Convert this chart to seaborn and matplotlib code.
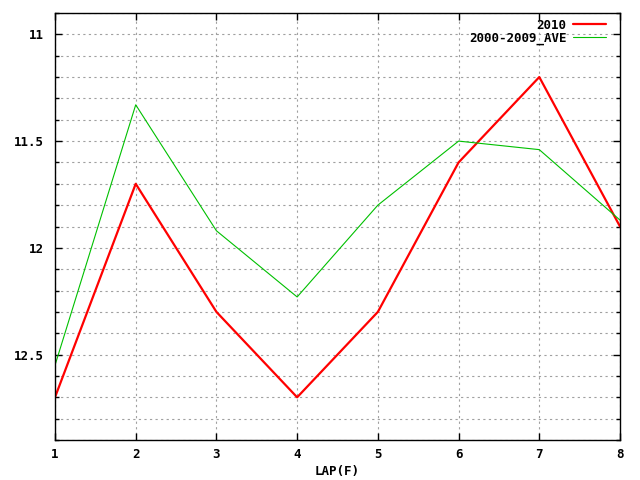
import numpy as np
import matplotlib
matplotlib.use('Agg')
import matplotlib.pyplot as plt
from matplotlib.ticker import MultipleLocator
import seaborn as sns
import pandas as pd

laps = [1, 2, 3, 4, 5, 6, 7, 8]
times2010 = [12.70, 11.70, 12.30, 12.70, 12.30, 11.60, 11.20, 11.90]
timesAve = [12.55, 11.33, 11.92, 12.23, 11.80, 11.50, 11.54, 11.87]

sns.set_style('white')
plt.rcParams['font.family'] = ['DejaVu Sans Mono', 'DejaVu Sans']
plt.rcParams['font.weight'] = 'bold'
plt.rcParams['font.size'] = 9
plt.rcParams['text.color'] = 'black'
plt.rcParams['axes.labelcolor'] = 'black'
plt.rcParams['xtick.color'] = 'black'
plt.rcParams['ytick.color'] = 'black'

df = pd.DataFrame({'lap': laps + laps,
                   'time': times2010 + timesAve,
                   'series': ['2010']*len(laps) + ['2000-2009_AVE']*len(laps)})

fig = plt.figure(figsize=(6.4, 4.8), dpi=100)
ax = fig.add_axes([55/640, 40/480, 565/640, 427/480])

sns.lineplot(data=df[df.series == '2010'], x='lap', y='time', color='#ff0000',
             linewidth=1.6, label='2010', ax=ax)
sns.lineplot(data=df[df.series == '2000-2009_AVE'], x='lap', y='time', color='#00c000',
             linewidth=0.8, label='2000-2009_AVE', ax=ax)

ax.set_xlim(1, 8)
ax.set_ylim(12.9, 10.9)
ax.xaxis.set_major_locator(MultipleLocator(1))
ax.yaxis.set_minor_locator(MultipleLocator(0.1))
ax.set_yticks([11, 11.5, 12, 12.5])
ax.set_yticklabels(['11', '11.5', '12', '12.5'])

gridStyle = dict(color='#a0a0a0', linestyle=(0, (2, 3)), linewidth=0.8)
ax.grid(True, axis='x', which='major', **gridStyle)
ax.grid(True, axis='y', which='both', **gridStyle)
ax.set_axisbelow(True)

ax.tick_params(which='both', direction='in', top=True, right=True,
               left=True, bottom=True, width=1, color='black')
ax.tick_params(which='major', length=5)
ax.tick_params(which='minor', length=3)
ax.tick_params(axis='x', which='major', pad=6)
ax.tick_params(axis='y', which='major', pad=8)
for spine in ax.spines.values():
  spine.set_visible(True)
  spine.set_color('black')
  spine.set_linewidth(1)

ax.set_xlabel('LAP(F)', fontweight='bold', va='center')
ax.xaxis.set_label_coords(0.5, -32/427)
ax.set_ylabel('')

leg = ax.legend(loc='upper right', bbox_to_anchor=(1 - 5/565, 1 + 3/427),
                frameon=False, markerfirst=False, handlelength=2.7,
                borderaxespad=0.3, labelspacing=0.0, handletextpad=0.5)

fig.savefig('out.png', dpi=100)
